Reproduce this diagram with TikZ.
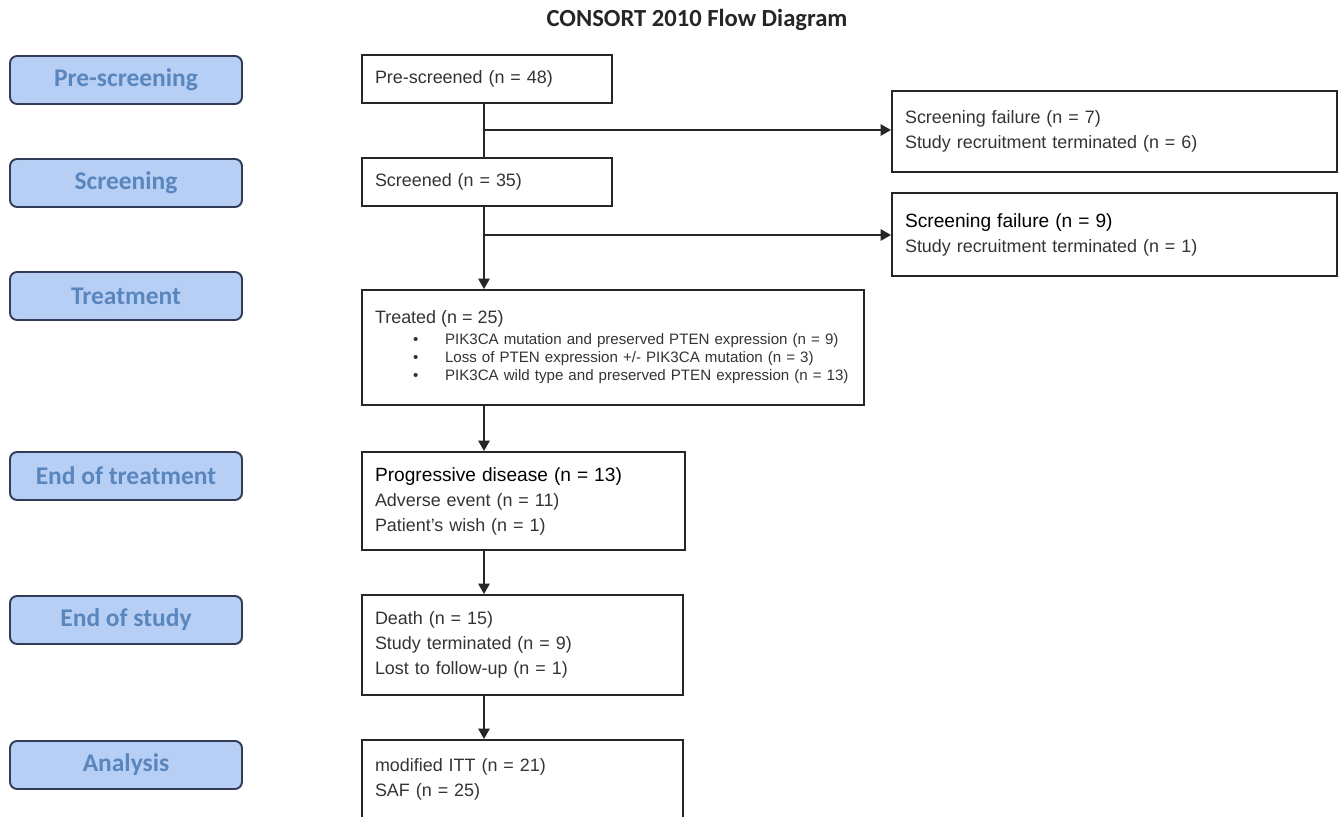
\documentclass[tikz,border=0pt]{standalone}
\usepackage{fontspec}
\setmainfont{Liberation Sans}
\newfontfamily\stagefont{Carlito}
\usetikzlibrary{arrows.meta}
\definecolor{stagefill}{HTML}{B7CFF5}
\definecolor{stagetext}{HTML}{5A86BE}
\definecolor{stageline}{HTML}{323C5A}
\definecolor{boxtext}{HTML}{333333}
\newcommand{\keyline}[1]{{\color{black}\fontsize{10.9}{14.2}\selectfont #1}}

\begin{document}
\begin{tikzpicture}[x=0.02cm, y=-0.02cm, >={Triangle[length=6pt,width=6.5pt]},
  stage/.style = {draw=stageline, line width=1.1pt, fill=stagefill, rounded corners=4pt,
    minimum width=4.64cm, minimum height=0.96cm, text=stagetext,
    font=\stagefont\bfseries\fontsize{14.5}{17}\selectfont},
  flow/.style = {draw=black!85, line width=1.1pt, align=left, inner xsep=0.26cm,
    text=boxtext, font=\fontsize{10.2}{14.2}\selectfont},
  link/.style = {draw=black!85, line width=1.1pt}]
  \useasboundingbox (0,0) rectangle (1341,817);

  \node[font=\stagefont\bfseries\fontsize{14}{17}\selectfont, text=black!85] (title) at (697,20) {CONSORT 2010 Flow Diagram};

  % stages on the left
  \node[stage] (s1) at (126,80) {Pre-screening};
  \node[stage] (s2) at (126,183) {Screening};
  \node[stage] (s3) at (126,296) {Treatment};
  \node[stage] (s4) at (126,476) {End of treatment};
  \node[stage] (s5) at (126,620) {End of study};
  \node[stage] (s6) at (126,765) {Analysis};

  % main flow
  \node[flow, text width=4.48cm, minimum height=0.96cm] (pre) at (487,79) {Pre-screened (n = 48)};
  \node[flow, text width=4.48cm, minimum height=0.96cm] (scr) at (487,182) {Screened (n = 35)};
  \node[flow, text width=9.52cm, minimum height=2.3cm, font=\fontsize{8.6}{10.5}\selectfont] (trt) at (613,347.5)
    {{\fontsize{10.2}{10.5}\selectfont Treated (n = 25)}\\[1pt]
     \hspace*{0.76cm}\makebox[0.64cm][l]{\textbullet}PIK3CA mutation and preserved PTEN expression (n = 9)\\
     \hspace*{0.76cm}\makebox[0.64cm][l]{\textbullet}Loss of PTEN expression +/- PIK3CA mutation (n = 3)\\
     \hspace*{0.76cm}\makebox[0.64cm][l]{\textbullet}PIK3CA wild type and preserved PTEN expression (n = 13)};
  \node[flow, text width=5.94cm, minimum height=1.96cm] (eot) at (523.5,501)
    {\keyline{Progressive disease (n = 13)}\\ Adverse event (n = 11)\\ Patient's wish (n = 1)};
  \node[flow, text width=5.9cm, minimum height=2cm] (eos) at (522.5,645)
    {Death (n = 15)\\ Study terminated (n = 9)\\ Lost to follow-up (n = 1)};
  \node[flow, text width=5.9cm, minimum height=1.56cm] (ana) at (522.5,779)
    {modified ITT (n = 21)\\ SAF (n = 25)};

  % exclusions
  \node[flow, text width=8.38cm, minimum height=1.62cm] (exc1) at (1114.5,131.5)
    {Screening failure (n = 7)\\ Study recruitment terminated (n = 6)};
  \node[flow, text width=8.38cm, minimum height=1.66cm] (exc2) at (1114.5,234.5)
    {\keyline{Screening failure (n = 9)}\\ Study recruitment terminated (n = 1)};

  \coordinate (spine) at (484,0);
  \coordinate (fork1) at (484,130);
  \coordinate (fork2) at (484,235);

  \draw[link] (pre.south -| spine) -- (scr.north -| spine);
  \draw[link, ->] (fork1) -- (fork1 -| exc1.west);
  \draw[link, ->] (scr.south -| spine) -- (trt.north -| spine);
  \draw[link, ->] (fork2) -- (fork2 -| exc2.west);
  \draw[link, ->] (trt.south -| spine) -- (eot.north -| spine);
  \draw[link, ->] (eot.south -| spine) -- (eos.north -| spine);
  \draw[link, ->] (eos.south -| spine) -- (ana.north -| spine);
\end{tikzpicture}
\end{document}
